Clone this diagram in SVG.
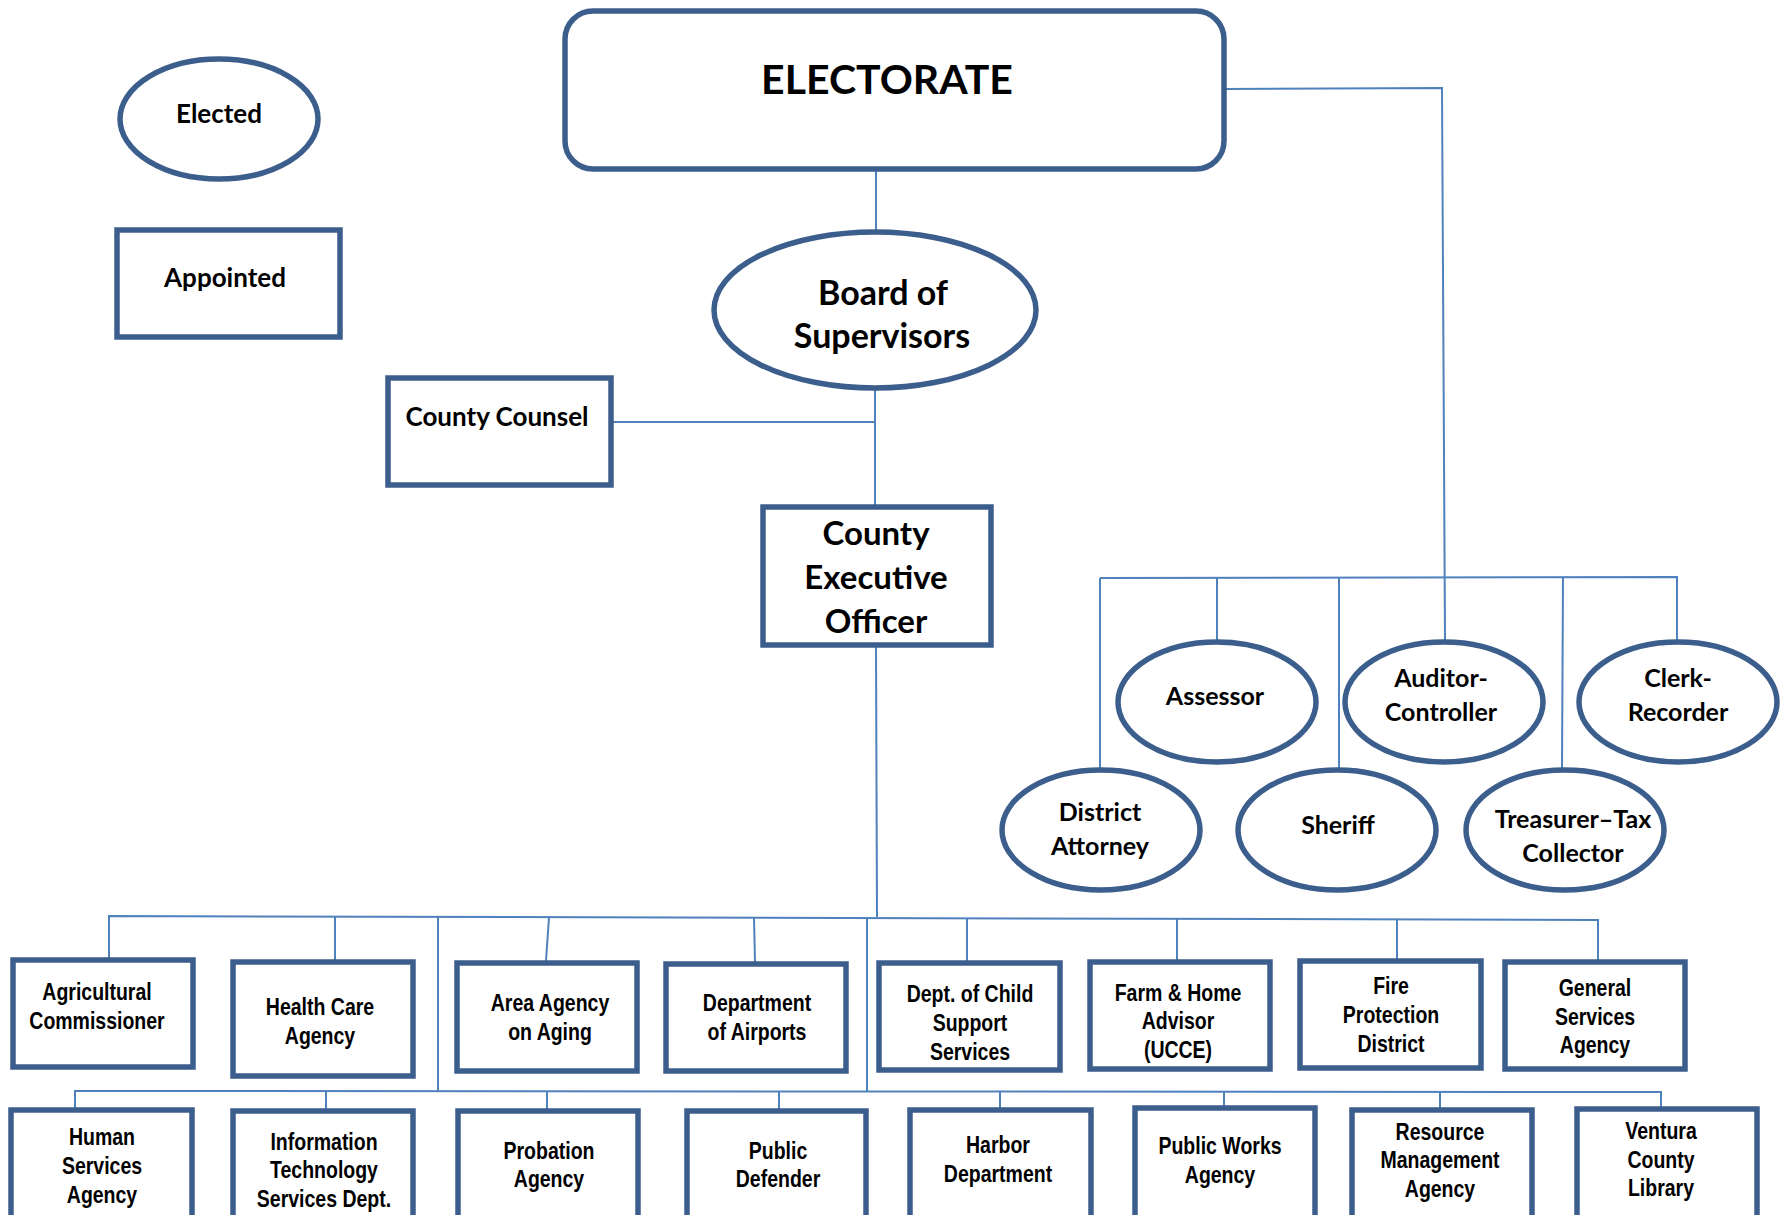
<svg xmlns="http://www.w3.org/2000/svg" width="1788" height="1215" viewBox="0 0 1788 1215">
<style>
.nd{fill:#fff;stroke:#3C5E8C;stroke-width:5.5}
.cn{fill:none;stroke:#4F81BD;stroke-width:2}
.c{font-family:Lato,"Open Sans","Noto Sans",sans-serif;font-weight:bold;fill:#000;text-anchor:middle}
.n{font-family:"Liberation Sans",Arial,sans-serif;font-weight:bold;fill:#000;text-anchor:middle;font-size:23.5px}
.s26{font-size:26px}
.s25{font-size:25px}
</style>
<rect width="1788" height="1215" fill="#fff"/>
<g id="connectors">
<path class="cn" d="M876,169 L876,231"/>
<path class="cn" d="M875,389 L875,506"/>
<path class="cn" d="M611,422 L874,422"/>
<path class="cn" d="M876,647 L877,917"/>
<path class="cn" d="M1224,89 L1442,88 L1445,641"/>
<path class="cn" d="M1100,578 L1677,577 L1677,641"/>
<path class="cn" d="M1100,578 L1100,769"/>
<path class="cn" d="M1217,578 L1217,641"/>
<path class="cn" d="M1339,578 L1339,769"/>
<path class="cn" d="M1563,578 L1562,769"/>
<path class="cn" d="M109,958 L109,916 L1598,920 L1598,960"/>
<path class="cn" d="M335,917 L335,960"/>
<path class="cn" d="M549,917 L546,961"/>
<path class="cn" d="M754,918 L755,962"/>
<path class="cn" d="M967,919 L967,961"/>
<path class="cn" d="M1177,919 L1177,960"/>
<path class="cn" d="M1397,919 L1397,959"/>
<path class="cn" d="M438,917 L438,1091"/>
<path class="cn" d="M867,918 L867,1092"/>
<path class="cn" d="M75,1108 L75,1091 L1661,1092 L1661,1107"/>
<path class="cn" d="M326,1091 L326,1109"/>
<path class="cn" d="M547,1091 L547,1109"/>
<path class="cn" d="M779,1091 L779,1109"/>
<path class="cn" d="M1000,1092 L1000,1108"/>
<path class="cn" d="M1224,1092 L1224,1106"/>
<path class="cn" d="M1440,1092 L1440,1108"/>
</g>
<g id="legend-elected">
<ellipse class="nd" cx="219" cy="119" rx="99" ry="60"/>
<text class="c s26" x="219" y="123">Elected</text>
</g>
<g id="legend-appointed">
<rect class="nd" x="117" y="230" width="223" height="107"/>
<text class="c s26" x="225" y="287">Appointed</text>
</g>
<g id="electorate">
<rect class="nd" x="565" y="11" width="659" height="158" rx="28"/>
<text class="c" x="887" y="94" font-size="41">ELECTORATE</text>
</g>
<g id="board">
<ellipse class="nd" cx="875" cy="310" rx="161" ry="78"/>
<text class="c" x="883" y="305" font-size="34">Board of</text>
<text class="c" x="882" y="348" font-size="34">Supervisors</text>
</g>
<g id="county-counsel">
<rect class="nd" x="388" y="378" width="223" height="107"/>
<text class="c s26" x="497" y="426">County Counsel</text>
</g>
<g id="ceo">
<rect class="nd" x="763" y="507" width="228" height="138"/>
<text class="c" x="876" y="545" font-size="33">County</text>
<text class="c" x="876" y="589" font-size="33">Executive</text>
<text class="c" x="876" y="633" font-size="33">Officer</text>
</g>
<g id="assessor">
<ellipse class="nd" cx="1217" cy="702" rx="99" ry="60"/>
<text class="c s25" x="1215" y="705">Assessor</text>
</g>
<g id="auditor-controller">
<ellipse class="nd" cx="1444" cy="702" rx="99" ry="60"/>
<text class="c s25" x="1441" y="687">Auditor-</text>
<text class="c s25" x="1441" y="721">Controller</text>
</g>
<g id="clerk-recorder">
<ellipse class="nd" cx="1678" cy="702" rx="99" ry="60"/>
<text class="c s25" x="1678" y="687">Clerk-</text>
<text class="c s25" x="1678" y="721">Recorder</text>
</g>
<g id="district-attorney">
<ellipse class="nd" cx="1101" cy="830" rx="99" ry="60"/>
<text class="c s25" x="1100" y="821">District</text>
<text class="c s25" x="1100" y="855">Attorney</text>
</g>
<g id="sheriff">
<ellipse class="nd" cx="1337" cy="830" rx="99" ry="60"/>
<text class="c s25" x="1338" y="834">Sheriff</text>
</g>
<g id="treasurer">
<ellipse class="nd" cx="1565" cy="830" rx="99" ry="60"/>
<text class="c s25" x="1573" y="828">Treasurer–Tax</text>
<text class="c s25" x="1573" y="862">Collector</text>
</g>
<g id="agricultural">
<rect class="nd" x="13" y="960" width="180" height="107"/>
<g transform="translate(97,0) scale(0.83,1)"><text class="n" x="0" y="1000">Agricultural</text>
<text class="n" x="0" y="1029">Commissioner</text></g>
</g>
<g id="health-care">
<rect class="nd" x="233" y="962" width="180" height="114"/>
<g transform="translate(320,0) scale(0.83,1)"><text class="n" x="0" y="1015">Health Care</text>
<text class="n" x="0" y="1044">Agency</text></g>
</g>
<g id="area-agency">
<rect class="nd" x="457" y="963" width="180" height="108"/>
<g transform="translate(550,0) scale(0.83,1)"><text class="n" x="0" y="1011">Area Agency</text>
<text class="n" x="0" y="1040">on Aging</text></g>
</g>
<g id="airports">
<rect class="nd" x="666" y="964" width="180" height="107"/>
<g transform="translate(757,0) scale(0.83,1)"><text class="n" x="0" y="1011">Department</text>
<text class="n" x="0" y="1040">of Airports</text></g>
</g>
<g id="child-support">
<rect class="nd" x="879" y="963" width="181" height="107"/>
<g transform="translate(970,0) scale(0.83,1)"><text class="n" x="0" y="1002">Dept. of Child</text>
<text class="n" x="0" y="1031">Support</text>
<text class="n" x="0" y="1060">Services</text></g>
</g>
<g id="farm-home">
<rect class="nd" x="1090" y="962" width="180" height="107"/>
<g transform="translate(1178,0) scale(0.83,1)"><text class="n" x="0" y="1001">Farm &amp; Home</text>
<text class="n" x="0" y="1029">Advisor</text>
<text class="n" x="0" y="1058">(UCCE)</text></g>
</g>
<g id="fire">
<rect class="nd" x="1300" y="961" width="181" height="107"/>
<g transform="translate(1391,0) scale(0.83,1)"><text class="n" x="0" y="994">Fire</text>
<text class="n" x="0" y="1023">Protection</text>
<text class="n" x="0" y="1052">District</text></g>
</g>
<g id="general-services">
<rect class="nd" x="1505" y="962" width="180" height="107"/>
<g transform="translate(1595,0) scale(0.83,1)"><text class="n" x="0" y="996">General</text>
<text class="n" x="0" y="1025">Services</text>
<text class="n" x="0" y="1053">Agency</text></g>
</g>
<g id="human-services">
<rect class="nd" x="11" y="1110" width="181" height="120"/>
<g transform="translate(102,0) scale(0.83,1)"><text class="n" x="0" y="1145">Human</text>
<text class="n" x="0" y="1174">Services</text>
<text class="n" x="0" y="1203">Agency</text></g>
</g>
<g id="it-services">
<rect class="nd" x="233" y="1111" width="180" height="120"/>
<g transform="translate(324,0) scale(0.83,1)"><text class="n" x="0" y="1150">Information</text>
<text class="n" x="0" y="1178">Technology</text>
<text class="n" x="0" y="1207">Services Dept.</text></g>
</g>
<g id="probation">
<rect class="nd" x="458" y="1111" width="180" height="120"/>
<g transform="translate(549,0) scale(0.83,1)"><text class="n" x="0" y="1159">Probation</text>
<text class="n" x="0" y="1187">Agency</text></g>
</g>
<g id="public-defender">
<rect class="nd" x="687" y="1111" width="179" height="120"/>
<g transform="translate(778,0) scale(0.83,1)"><text class="n" x="0" y="1159">Public</text>
<text class="n" x="0" y="1187">Defender</text></g>
</g>
<g id="harbor">
<rect class="nd" x="910" y="1110" width="181" height="120"/>
<g transform="translate(998,0) scale(0.83,1)"><text class="n" x="0" y="1153">Harbor</text>
<text class="n" x="0" y="1182">Department</text></g>
</g>
<g id="public-works">
<rect class="nd" x="1135" y="1108" width="180" height="120"/>
<g transform="translate(1220,0) scale(0.83,1)"><text class="n" x="0" y="1154">Public Works</text>
<text class="n" x="0" y="1183">Agency</text></g>
</g>
<g id="resource-management">
<rect class="nd" x="1352" y="1110" width="180" height="120"/>
<g transform="translate(1440,0) scale(0.83,1)"><text class="n" x="0" y="1140">Resource</text>
<text class="n" x="0" y="1168">Management</text>
<text class="n" x="0" y="1197">Agency</text></g>
</g>
<g id="ventura-library">
<rect class="nd" x="1577" y="1109" width="180" height="120"/>
<g transform="translate(1661,0) scale(0.83,1)"><text class="n" x="0" y="1139">Ventura</text>
<text class="n" x="0" y="1168">County</text>
<text class="n" x="0" y="1196">Library</text></g>
</g>
</svg>
